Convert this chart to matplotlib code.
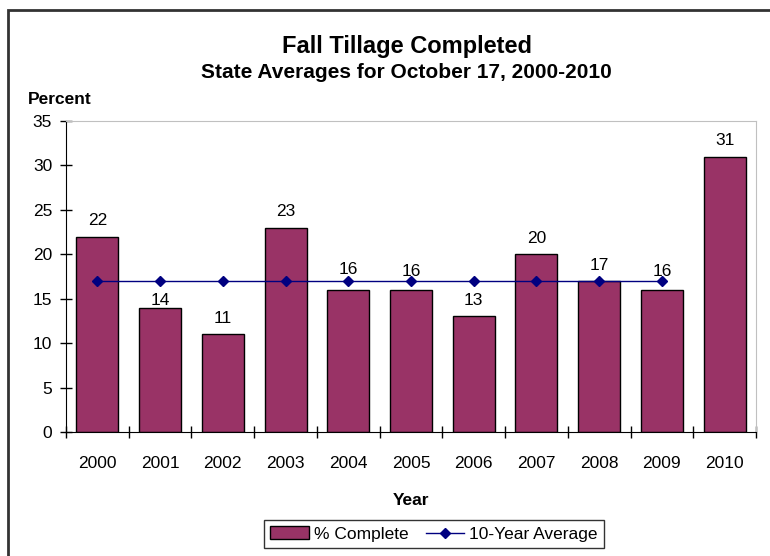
import matplotlib.pyplot as plt
import numpy as np
from matplotlib.patches import Rectangle

years = ["2000", "2001", "2002", "2003", "2004", "2005", "2006", "2007", "2008", "2009", "2010"]
pct_complete = [22, 14, 11, 23, 16, 16, 13, 20, 17, 16, 31]
avg_years = ["2000", "2001", "2002", "2003", "2004", "2005", "2006", "2007", "2008", "2009"]
ten_year_avg = [17, 17, 17, 17, 17, 17, 17, 17, 17, 17]

plt.rcParams["font.family"] = ["Liberation Sans", "DejaVu Sans"]
FS = 12.5

fig = plt.figure(figsize=(7.7, 5.56), dpi=100)
ax = fig.add_axes([66 / 770, 1 - 432 / 556, (756 - 66) / 770, (432 - 121) / 556])

# outer chart border
fig.patches.append(Rectangle((8 / 770, -0.01), 1.0, 1 - 10 / 556 + 0.01, transform=fig.transFigure,
                             fill=False, edgecolor="#333333", linewidth=2))

x = np.arange(len(years))
bars = ax.bar(x, pct_complete, width=0.67, color="#993366", edgecolor="black", linewidth=1,
              label="% Complete", zorder=2)
line, = ax.plot(np.arange(len(avg_years)), ten_year_avg, color="#000080", marker="D", markersize=5,
                linewidth=1, label="10-Year Average", zorder=3)

# labels that were nudged off the average line in the original
nudge = {"2001": -6, "2004": 3, "2005": 1.5, "2009": 1.5}
for xi, yr, v in zip(x, years, pct_complete):
    ax.annotate(str(v), (xi, v), xytext=(0, 6 + nudge.get(yr, 0)), textcoords="offset points",
                ha="center", va="bottom", fontsize=FS, zorder=4)

ax.set_xlim(-0.5, len(years) - 0.5)
ax.set_ylim(0, 35)
ax.set_yticks(range(0, 36, 5))
ax.set_xticks(x)
ax.set_xticklabels(years, fontsize=FS)
ax.set_xticks(np.arange(-0.5, len(years), 1), minor=True)
ax.tick_params(axis="x", which="major", length=0, pad=17)
ax.tick_params(axis="x", which="minor", direction="inout", length=8, width=1)
ax.tick_params(axis="y", direction="inout", length=8, width=1, labelsize=FS, pad=6)

for side in ["top", "right"]:
    ax.spines[side].set_color("#c0c0c0")
for side in ["left", "bottom"]:
    ax.spines[side].set_color("black")

ax.set_xlabel("Year", fontsize=FS, fontweight="bold", labelpad=16)

fig.text(0.528, 1 - 46 / 556, "Fall Tillage Completed", ha="center", va="center",
         fontsize=17, fontweight="bold")
fig.text(0.528, 1 - 73 / 556, "State Averages for October 17, 2000-2010", ha="center", va="center",
         fontsize=15, fontweight="bold")
fig.text(28 / 770, 1 - 99 / 556, "Percent", ha="left", va="center", fontsize=FS, fontweight="bold")

leg = fig.legend([bars, line], ["% Complete", "10-Year Average"], loc="center",
                 bbox_to_anchor=(434 / 770, 1 - 534 / 556), ncol=2, fontsize=FS,
                 frameon=True, fancybox=False, edgecolor="black", handlelength=2.2,
                 columnspacing=1.0, handletextpad=0.3, borderpad=0.35)
leg.get_frame().set_linewidth(1)

fig.savefig("out.png", dpi=100)
